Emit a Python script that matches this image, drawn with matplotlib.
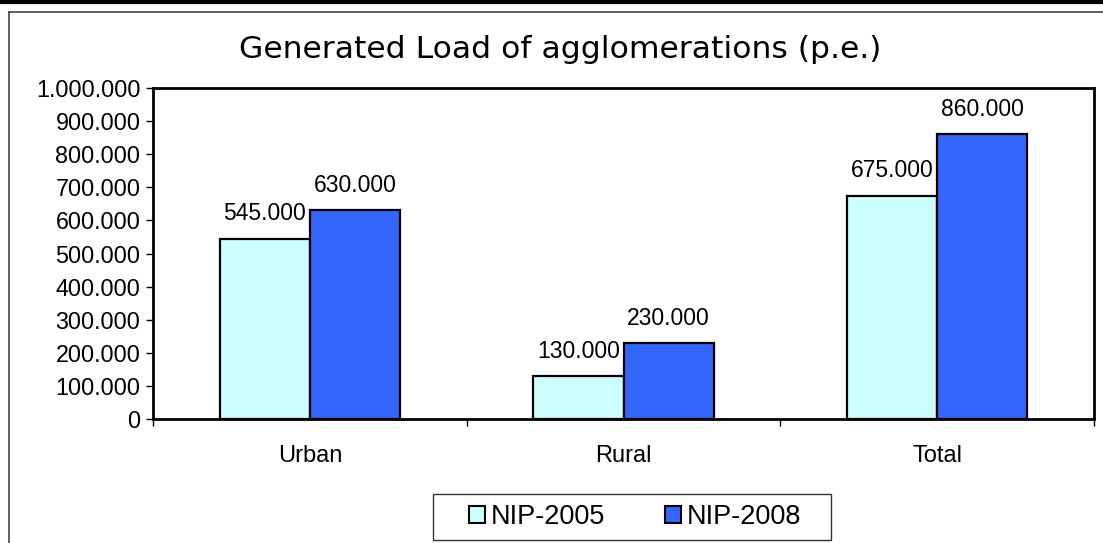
import matplotlib
matplotlib.use("Agg")
import matplotlib.pyplot as plt
from matplotlib.lines import Line2D
from matplotlib.patches import Patch, Rectangle
from matplotlib.ticker import FuncFormatter, FixedLocator
import numpy as np

categories = ["Urban", "Rural", "Total"]
series_names = ["NIP-2005", "NIP-2008"]
nip2005 = [545000, 130000, 675000]
nip2008 = [630000, 230000, 860000]
colors = ["#CCFFFF", "#3366FF"]
title = "Generated Load of agglomerations (p.e.)"

W, H = 1103, 543
fig = plt.figure(figsize=(W / 100, H / 100), dpi=100)
ax = fig.add_axes([153 / W, 1 - 419 / H, (1094 - 153) / W, (419 - 88) / H])

def fmt(v):
    return f"{int(round(v)):,}".replace(",", ".")

x = np.arange(len(categories))
bw = 0.287
for i, (vals, c) in enumerate(zip([nip2005, nip2008], colors)):
    pos = x + (i - 0.5) * bw
    bars = ax.bar(pos, vals, width=bw, color=c, edgecolor="black", linewidth=1.6, zorder=3)
    for b, v in zip(bars, vals):
        ax.annotate(fmt(v), (b.get_x() + b.get_width() / 2, v), xytext=(0, 9.5),
                    textcoords="offset points", ha="center", va="bottom",
                    fontsize=16.5, family="Liberation Sans")

ax.set_xlim(-0.5, len(categories) - 0.5)
ax.set_ylim(0, 1000000)
ax.yaxis.set_major_locator(FixedLocator(np.arange(0, 1000001, 100000)))
ax.yaxis.set_major_formatter(FuncFormatter(lambda v, p: fmt(v)))
ax.set_xticks(x)
ax.set_xticklabels(categories)
ax.xaxis.set_minor_locator(FixedLocator(np.arange(-0.5, len(categories), 1.0)))
ax.tick_params(axis="x", which="major", length=0, pad=19, labelsize=17)
ax.tick_params(axis="x", which="minor", length=5, width=1, direction="out")
ax.tick_params(axis="y", length=5, width=1, direction="out", labelsize=16.8, pad=4)
for lab in ax.get_xticklabels() + ax.get_yticklabels():
    lab.set_family("Liberation Sans")
for s in ax.spines.values():
    s.set_linewidth(2)
    s.set_color("black")

fig.text(560 / W, 1 - 50 / H, title, ha="center", va="center", fontsize=22.6,
         family="DejaVu Sans")

handles = [Patch(facecolor=c, edgecolor="black", linewidth=1.5) for c in colors]
leg = fig.legend(handles, series_names, loc="center",
                 bbox_to_anchor=(635 / W, 1 - 517 / H), ncol=2,
                 frameon=False,
                 prop={"family": "Liberation Sans", "size": 19.5},
                 handlelength=0.6, handleheight=0.6, handletextpad=0.2,
                 columnspacing=2.2, borderpad=0.2, borderaxespad=0)
fig.add_artist(Rectangle((433 / W, 1 - 540 / H), (831 - 433) / W, (540 - 494) / H,
                         transform=fig.transFigure, facecolor="none",
                         edgecolor="#333333", linewidth=1))

fig.add_artist(Line2D([0, 1], [1 - 1.5 / H, 1 - 1.5 / H], transform=fig.transFigure,
                      color="black", linewidth=3))
fig.add_artist(Line2D([9 / W, 1], [1 - 12 / H, 1 - 12 / H], transform=fig.transFigure,
                      color="#444444", linewidth=1.2))
fig.add_artist(Line2D([9 / W, 9 / W], [0, 1 - 12 / H], transform=fig.transFigure,
                      color="#444444", linewidth=1.2))

fig.savefig("out.png", dpi=100, facecolor="white")
